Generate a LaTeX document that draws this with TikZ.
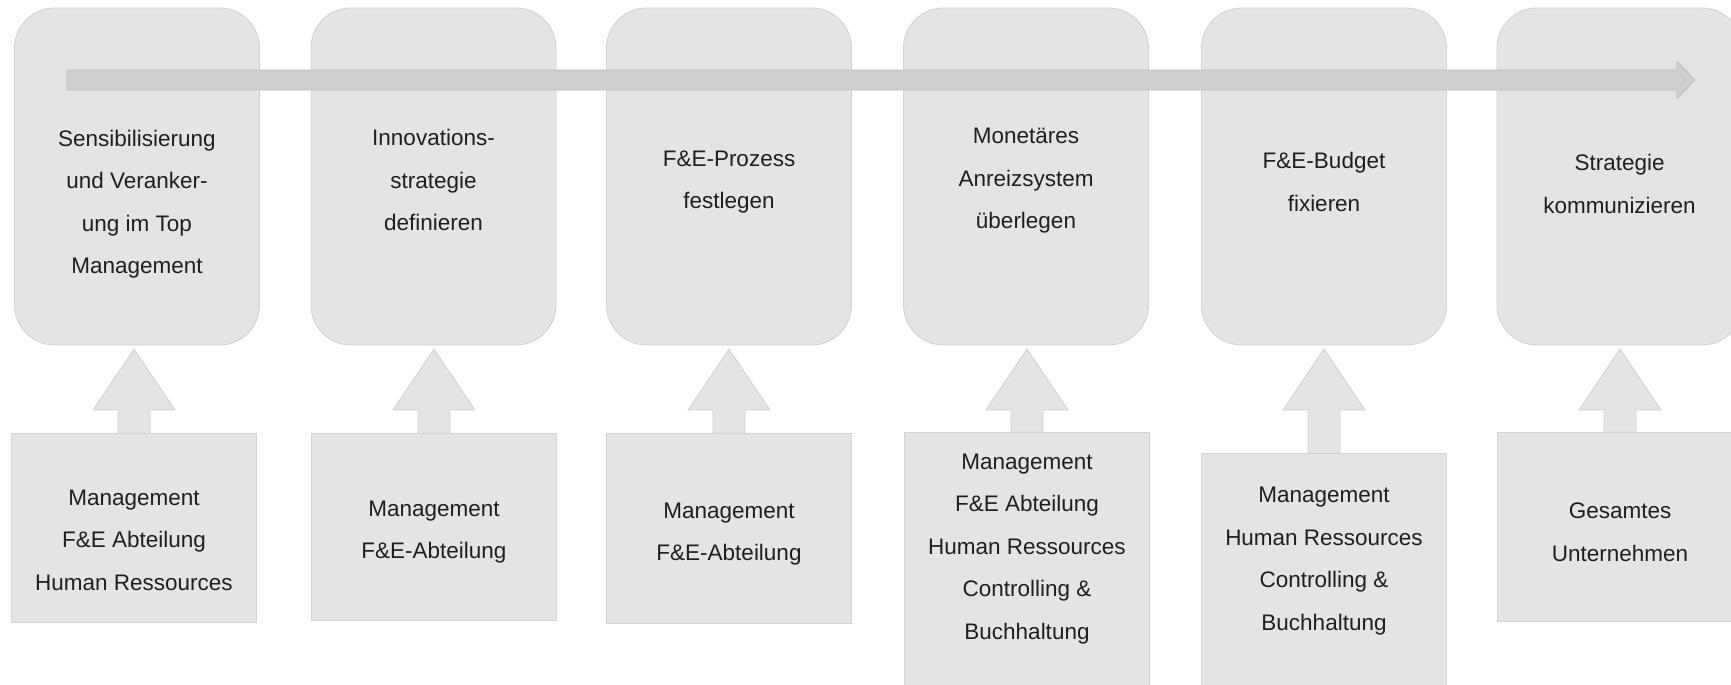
\documentclass[tikz,border=0pt]{standalone}
\usepackage{fontspec}
\setmainfont{Liberation Sans}
\usepackage{xcolor}
\usepackage{tikz}
\usetikzlibrary{calc}

\definecolor{boxfill}{HTML}{E4E4E4}
\definecolor{boxline}{HTML}{D3D3D3}
\definecolor{barfill}{HTML}{CECECE}
\definecolor{barline}{HTML}{BEBEBE}

\begin{document}
\begin{tikzpicture}[x=0.2mm,y=-0.2mm,
    every node/.style={inner sep=0pt,outer sep=0pt},
    phasebox/.style={draw=boxline,fill=boxfill,line width=0.5pt,rounded corners=8mm,
      minimum width=49mm,minimum height=67.4mm},
    teambox/.style={draw=boxline,fill=boxfill,line width=0.5pt,minimum width=49mm,anchor=north},
    txt/.style={align=center,text=black!88,font=\fontsize{12.8}{24.2}\selectfont},
    pale/.style={draw=boxline,fill=boxfill,line width=0.5pt,line join=miter},
    bar/.style={draw=barline,fill=barfill,line width=0.5pt,line join=miter}]
  \useasboundingbox (0,0) rectangle (1731,685);
  \clip (0,0) rectangle (1731,685);

  % Prozessschritte oben
  \foreach \i/\x in {1/137,2/433.5,3/729,4/1026,5/1324,6/1619.5}{
    \node[phasebox] (phase\i) at (\x,176.5) {};
  }
  \node[txt] (ptext1) at (137,204) {Sensibilisierung\\und Veranker-\\ung im Top\\Management};
  \node[txt] (ptext2) at (433.5,180) {Innovations-\\strategie\\definieren};
  \node[txt] (ptext3) at (729,182) {F\&E-Prozess\\festlegen};
  \node[txt] (ptext4) at (1026,181) {Monetäres\\Anreizsystem\\überlegen};
  \node[txt] (ptext5) at (1324,182) {F\&E-Budget\\fixieren};
  \node[txt] (ptext6) at (1619.5,184) {Strategie\\kommunizieren};

  % Beteiligte unten
  \foreach \i/\x/\y/\h in {1/134/433/37.8mm,2/434/433/37.4mm,3/729/433/38mm,
                           4/1027/432/54mm,5/1324/453/50mm,6/1620/432/37.8mm}{
    \node[teambox,minimum height=\h] (team\i) at (\x,\y) {};
  }
  \node[txt] (ttext1) at (134,540) {Management\\F\&E Abteilung\\Human Ressources};
  \node[txt] (ttext2) at (434,532) {Management\\F\&E-Abteilung};
  \node[txt] (ttext3) at (729,534) {Management\\F\&E-Abteilung};
  \node[txt] (ttext4) at (1027,549) {Management\\F\&E Abteilung\\Human Ressources\\Controlling \&\\Buchhaltung};
  \node[txt] (ttext5) at (1324,561) {Management\\Human Ressources\\Controlling \&\\Buchhaltung};
  \node[txt] (ttext6) at (1620,532) {Gesamtes\\Unternehmen};

  % Pfeile nach oben
  \foreach \i in {1,...,6}{
    \filldraw[pale] ($(team\i.north)+(-16,0)$)
      -- ($(team\i.north |- phase\i.south)+(-16,65)$)
      -- ($(team\i.north |- phase\i.south)+(-41,65)$)
      -- ($(team\i.north |- phase\i.south)+(0,4)$)
      -- ($(team\i.north |- phase\i.south)+(41,65)$)
      -- ($(team\i.north |- phase\i.south)+(16,65)$)
      -- ($(team\i.north)+(16,0)$) -- cycle;
  }

  % Zeitachse
  \coordinate (tstart) at (67,80);
  \coordinate (tend) at (1695,80);
  \filldraw[bar] ($(tstart)+(0,-10)$) -- ($(tend)+(-18,-10)$) -- ($(tend)+(-18,-18.5)$)
    -- (tend) -- ($(tend)+(-18,18.5)$) -- ($(tend)+(-18,10)$) -- ($(tstart)+(0,10)$) -- cycle;
\end{tikzpicture}
\end{document}
